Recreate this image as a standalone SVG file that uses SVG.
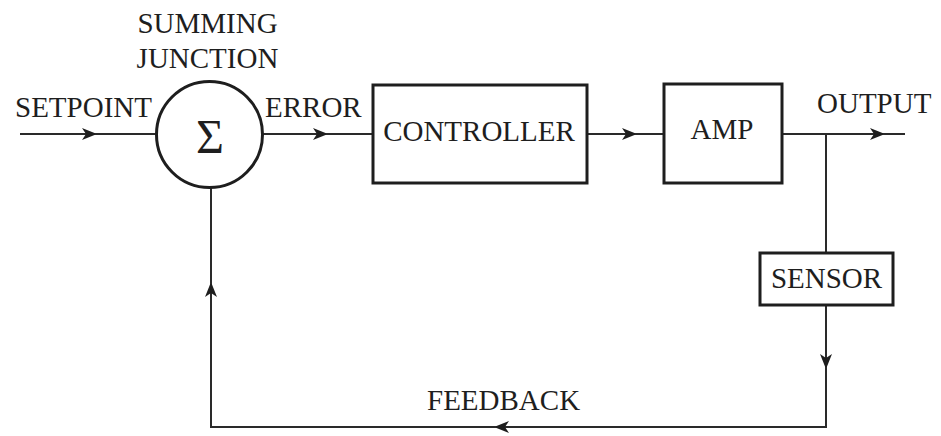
<svg xmlns="http://www.w3.org/2000/svg" width="941" height="436" viewBox="0 0 941 436">
<style>
text{font-family:"Liberation Serif","Times New Roman",serif;font-size:29px;fill:#1e1e1e}
.box{fill:none;stroke:#1e1e1e;stroke-width:3}
.ln{fill:none;stroke:#2a2a2a;stroke-width:2}
.mid{text-anchor:middle}
.sig{font-size:48px}
</style>
<defs>
<marker id="arr" markerUnits="userSpaceOnUse" markerWidth="16" markerHeight="12" refX="15" refY="6" orient="auto">
<path d="M0,0 L15,6 L0,12 L4,6 z" fill="#1e1e1e"/>
</marker>
</defs>
<rect width="941" height="436" fill="#ffffff"/>
<g id="connectors">
<line class="ln" x1="20" y1="134" x2="97" y2="134" marker-end="url(#arr)"/>
<line class="ln" x1="95" y1="134" x2="156" y2="134"/>
<line class="ln" x1="263" y1="134" x2="328" y2="134" marker-end="url(#arr)"/>
<line class="ln" x1="326" y1="134" x2="373" y2="134"/>
<line class="ln" x1="587" y1="134" x2="637" y2="134" marker-end="url(#arr)"/>
<line class="ln" x1="635" y1="134" x2="664" y2="134"/>
<line class="ln" x1="782" y1="134" x2="885" y2="134" marker-end="url(#arr)"/>
<line class="ln" x1="883" y1="134" x2="905" y2="134"/>
<line class="ln" x1="826" y1="134" x2="826" y2="253"/>
<line class="ln" x1="826" y1="305" x2="826" y2="369" marker-end="url(#arr)"/>
<polyline class="ln" points="826,367 826,427 494,427" marker-end="url(#arr)"/>
<polyline class="ln" points="496,427 211,427 211,282" marker-end="url(#arr)"/>
<line class="ln" x1="211" y1="284" x2="211" y2="188"/>
</g>
<g id="summing">
<circle cx="209.5" cy="134.5" r="53" class="box" stroke-width="2.5"/>
<text x="210" y="153" class="mid sig">Σ</text>
<text x="207.5" y="33" class="mid">SUMMING</text>
<text x="207.5" y="68" class="mid">JUNCTION</text>
</g>
<g id="controller">
<rect x="373" y="85" width="214" height="98" class="box"/>
<text x="479" y="141" class="mid">CONTROLLER</text>
</g>
<g id="amp">
<rect x="664" y="84" width="118" height="99" class="box"/>
<text x="722" y="139" class="mid">AMP</text>
</g>
<g id="sensor">
<rect x="760" y="253" width="133" height="52" class="box"/>
<text x="826.5" y="288" class="mid">SENSOR</text>
</g>
<g id="labels">
<text x="15" y="117">SETPOINT</text>
<text x="265" y="117">ERROR</text>
<text x="817" y="113">OUTPUT</text>
<text x="427" y="410">FEEDBACK</text>
</g>
</svg>
